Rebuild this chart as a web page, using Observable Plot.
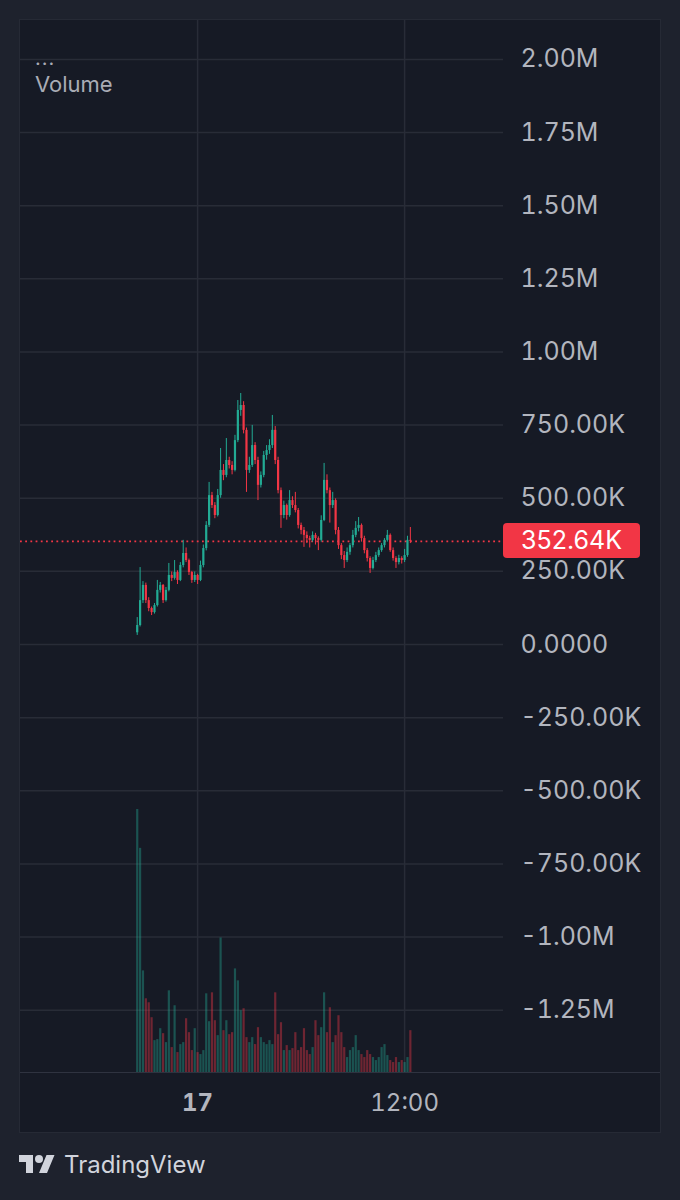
<!DOCTYPE html>
<html>
<head>
<meta charset="utf-8">
<script src="https://cdn.jsdelivr.net/npm/d3@7"></script>
<script src="https://cdn.jsdelivr.net/npm/@observablehq/plot@0.6"></script>
<style>
  html, body { margin: 0; padding: 0; }
  body { width: 680px; height: 1200px; background: #1e222d; position: relative; overflow: hidden; font-family: Inter, "Noto Sans", sans-serif; }
  #panel { position: absolute; left: 20px; top: 20px; width: 640px; height: 1112px; background: #161a25; box-shadow: 0 0 0 1px #262a35; }
  #chart { position: absolute; left: 0; top: 0; }
  #sep { position: absolute; left: 0; top: 1052px; width: 640px; height: 0; border-top: 1.5px solid #2f3340; }
  #legend { position: absolute; left: 15px; top: 28px; color: #a9acb5; font-size: 22px; line-height: 32px; }
  #lastLabel { position: absolute; width: 137px; height: 35px; background: #f23645; color: #ffffff; border-radius: 4px; font-size: 25px; line-height: 35px; text-align: center; }
  #brand { position: absolute; left: 18px; top: 1150px; display: flex; align-items: center; color: #d1d4dc; font-size: 24px; }
  #brand svg { margin-right: 8px; }
</style>
</head>
<body>
<div id="panel">
  <div id="chart"></div>
  <div id="sep"></div>
  <div id="legend"><div style="font-size:20px;line-height:20px;letter-spacing:1px">...</div><div>Volume</div></div>
</div>
<div id="brand">
  <svg width="38" height="28" viewBox="0 0 36 28"><path fill="#d1d4dc" d="M14 22H7V11H0V4h14v18zM28 22h-8l7.5-18h8L28 22z"/><circle fill="#d1d4dc" cx="20" cy="8" r="4"/></svg>
  <span>TradingView</span>
</div>
<script>
// ---- data (values in thousands) ----
const startTime = Date.UTC(2024, 0, 16, 20, 30); // first 10-minute candle
const candleMinutes = 10;
const opens  = [40,65,150,202,150,123,109,133,185,202,150,185,236,226,246,219,270,311,287,246,219,236,219,270,328,407,509,475,441,509,595,578,629,612,595,697,800,817,732,595,612,680,629,544,578,646,663,680,732,629,526,441,475,441,492,475,458,407,390,373,362,356,373,362,356,424,561,526,475,492,390,338,304,287,315,338,373,397,407,362,321,294,260,287,304,321,338,356,373,321,294,280,294,287,304,356];
const highs  = [92,263,215,210,160,128,140,219,212,205,195,277,248,287,252,280,356,330,292,250,248,240,285,340,420,554,520,485,530,670,615,704,640,625,715,834,858,830,740,640,749,690,640,590,660,680,700,783,745,640,535,490,480,526,505,520,465,415,400,385,370,385,380,368,440,619,580,535,520,498,400,345,318,330,345,390,420,434,412,370,328,300,298,315,330,345,362,390,378,330,300,305,300,325,370,400];
const lows   = [31,60,140,140,112,99,104,128,176,140,145,180,215,220,205,215,262,280,236,209,212,205,215,262,320,400,465,430,436,500,560,570,600,580,590,690,780,720,520,585,605,615,492,535,570,630,650,670,615,515,397,430,425,435,465,450,395,375,332,345,330,350,340,321,350,420,515,415,465,375,325,290,260,280,305,330,365,385,350,310,282,243,255,280,298,315,330,350,315,285,260,272,275,280,298,345];
const closes = [65,150,202,150,123,109,133,185,202,150,185,236,226,246,219,270,311,287,246,219,236,219,270,328,407,509,475,441,509,595,578,629,612,595,697,800,817,732,595,612,680,629,544,578,646,663,680,732,629,526,441,475,441,492,475,458,407,390,373,362,356,373,362,356,424,561,526,475,492,390,338,304,287,315,338,373,397,407,362,321,294,260,287,304,321,338,356,373,321,294,280,294,287,304,356,352.64];
const volumes = [5280,4500,2040,1480,1400,1100,640,660,880,780,600,1640,500,1340,400,560,600,1080,800,440,880,400,360,440,1580,1020,1600,1040,740,2700,840,1040,760,800,2080,1840,1240,1280,700,600,700,560,900,700,600,560,640,560,1600,760,1000,440,540,440,480,800,440,500,880,440,360,500,1040,740,900,1600,800,1300,600,740,1140,800,500,300,440,500,740,440,360,300,440,360,300,240,300,500,560,340,240,200,300,200,240,200,300,840];
const priceTicks = [-1250000,-1000000,-750000,-500000,-250000,0,250000,500000,750000,1000000,1250000,1500000,1750000,2000000];
const timeTickBold = [Date.UTC(2024, 0, 17, 0, 0)];
const timeTickPlain = [Date.UTC(2024, 0, 17, 12, 0)];
const timeTickLabels = {bold: "17", plain: "12:00"};
const xDomain = [Date.UTC(2024, 0, 16, 13, 44), Date.UTC(2024, 0, 17, 17, 44)];
const yDomain = [-1463000, 2133000];

// ---- colours ----
const upColor = "#22ab94", downColor = "#f23645", gridColor = "#282c37", textColor = "#b2b5be";

// ---- table ----
const maxVol = d3.max(volumes);
const volShare = 0.25; // volume overlay uses bottom quarter of the pane
const span = yDomain[1] - yDomain[0];
const candles = closes.map((c, i) => ({
  t: new Date(startTime + i * candleMinutes * 60000),
  open: opens[i] * 1000,
  high: highs[i] * 1000,
  low: lows[i] * 1000,
  close: c * 1000,
  up: c >= opens[i],
  v0: yDomain[0],
  v1: yDomain[0] + volumes[i] / maxVol * volShare * span
}));
const last = candles[candles.length - 1];

const fmt = v => v === 0 ? "0.0000" : Math.abs(v) >= 1e6 ? (v / 1e6).toFixed(2) + "M" : (v / 1e3).toFixed(2) + "K";

const chart = Plot.plot({
  width: 640,
  height: 1112,
  marginLeft: 0,
  marginRight: 157,
  marginTop: 0,
  marginBottom: 60,
  style: {background: "transparent", color: textColor, fontFamily: "Inter, 'Noto Sans', sans-serif", overflow: "visible"},
  x: {type: "utc", domain: xDomain},
  y: {domain: yDomain},
  marks: [
    Plot.gridY(priceTicks, {stroke: gridColor, strokeOpacity: 1, strokeWidth: 1.5}),
    Plot.gridX(timeTickBold.concat(timeTickPlain), {stroke: gridColor, strokeOpacity: 1, strokeWidth: 1.5}),
    Plot.ruleX(candles, {x: "t", y1: "v0", y2: "v1", stroke: d => d.up ? upColor : downColor, strokeOpacity: 0.4, strokeWidth: 2.2}),
    Plot.ruleY([last.close], {stroke: downColor, strokeWidth: 1.8, strokeDasharray: "1.8,3.4"}),
    Plot.ruleX(candles, {x: "t", y1: "low", y2: "high", stroke: d => d.up ? upColor : downColor, strokeWidth: 1}),
    Plot.ruleX(candles, {x: "t", y1: "open", y2: "close", stroke: d => d.up ? upColor : downColor, strokeWidth: 2.2}),
    Plot.axisY(priceTicks, {anchor: "right", tickSize: 0, tickPadding: 17, tickFormat: fmt, fontSize: 25, fill: textColor, label: null}),
    Plot.axisX(timeTickBold, {anchor: "bottom", tickSize: 0, tickPadding: 21, tickFormat: () => timeTickLabels.bold, fontSize: 24, fontWeight: "bold", fill: textColor, label: null}),
    Plot.axisX(timeTickPlain, {anchor: "bottom", tickSize: 0, tickPadding: 21, tickFormat: () => timeTickLabels.plain, fontSize: 24, fill: textColor, label: null})
  ]
});
document.getElementById("chart").appendChild(chart);

// last price label positioned through the y scale
const yPx = chart.scale("y").apply(last.close);
const lab = document.createElement("div");
lab.id = "lastLabel";
lab.textContent = fmt(last.close);
lab.style.left = "483px";
lab.style.top = (yPx - 17.5) + "px";
document.getElementById("panel").appendChild(lab);
</script>
</body>
</html>
